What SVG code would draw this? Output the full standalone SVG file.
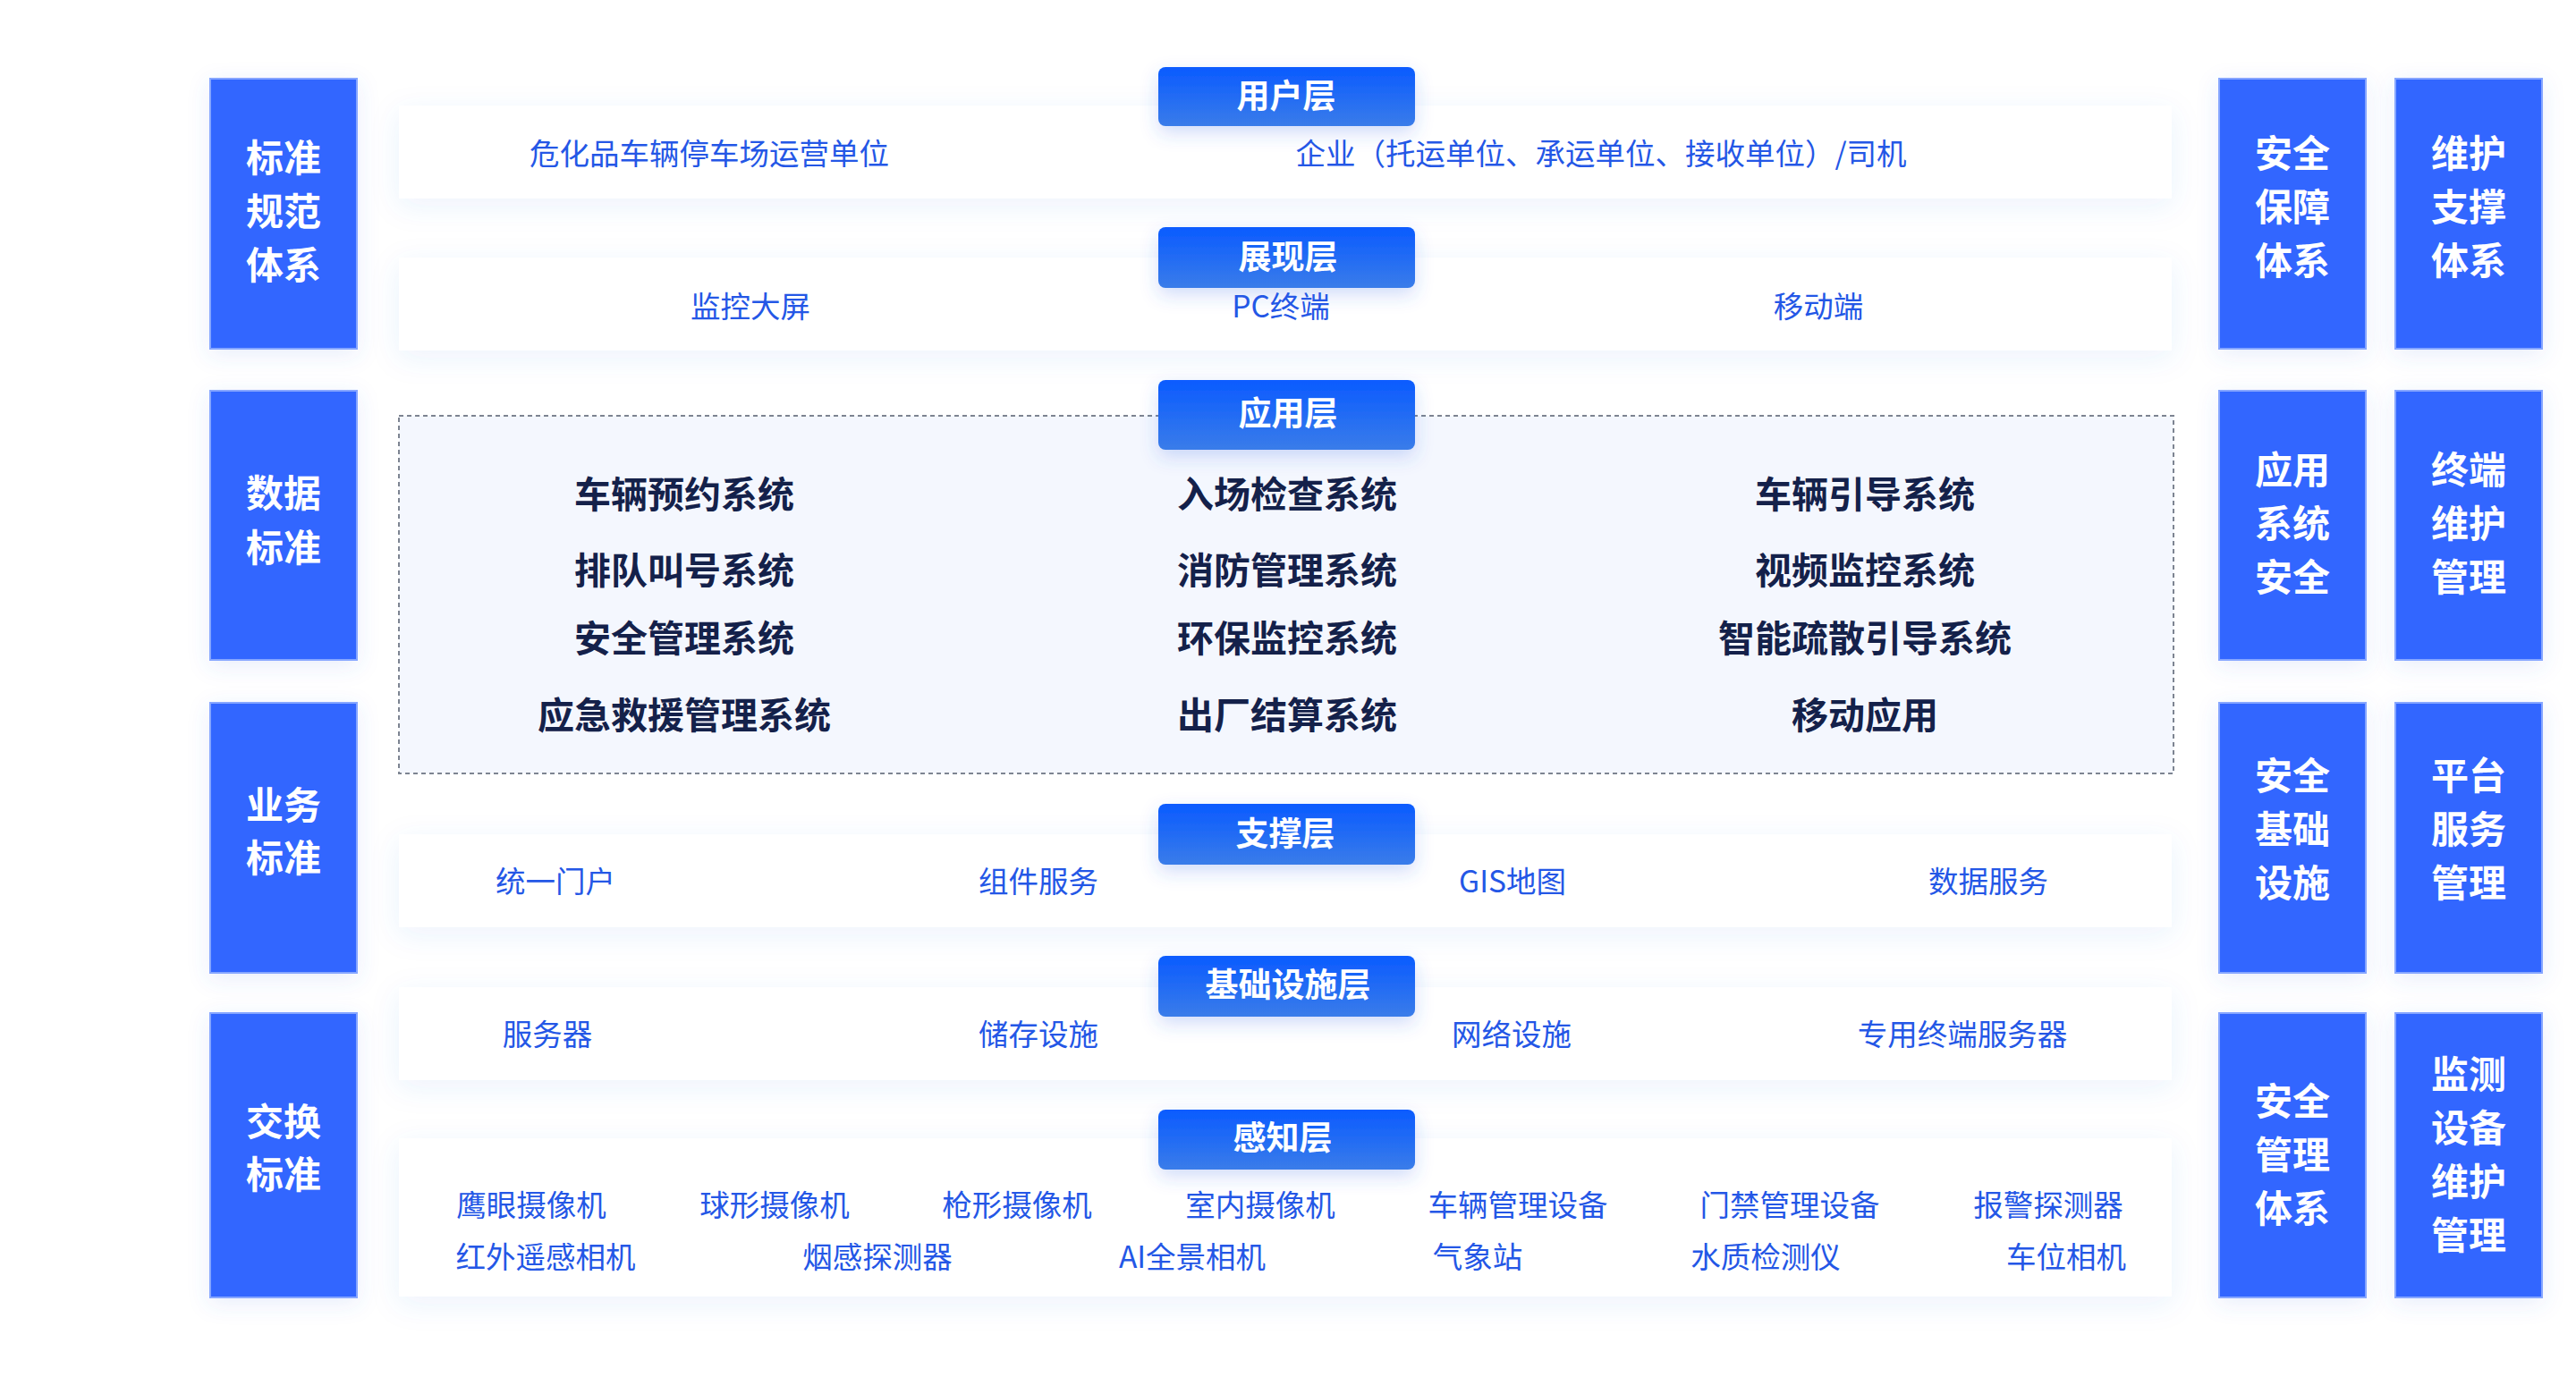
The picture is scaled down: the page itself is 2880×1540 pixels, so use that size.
<svg xmlns="http://www.w3.org/2000/svg" width="2880" height="1540" viewBox="0 0 2880 1540">
<defs>
<linearGradient id="tabGrad" x1="0" y1="0" x2="0" y2="1">
<stop offset="0" stop-color="#0a5bff"/>
<stop offset="1" stop-color="#3a7ce9"/>
</linearGradient>
<filter id="softShadow" x="-10%" y="-40%" width="120%" height="180%">
<feDropShadow dx="0" dy="8" stdDeviation="16" flood-color="#3f6fe0" flood-opacity="0.09"/>
</filter>
<filter id="tabShadow" x="-20%" y="-30%" width="140%" height="180%">
<feDropShadow dx="0" dy="8" stdDeviation="10" flood-color="#2f62e8" flood-opacity="0.22"/>
</filter>
<filter id="boxShadow" x="-30%" y="-15%" width="160%" height="130%">
<feDropShadow dx="0" dy="6" stdDeviation="12" flood-color="#3f6fe0" flood-opacity="0.12"/>
</filter>
</defs>
<style>
text{font-family:"Noto Sans CJK SC","Noto Sans",sans-serif;dominant-baseline:central;text-anchor:middle}
.side rect{fill:#3366ff;stroke:#86a6ff;stroke-width:2;filter:url(#boxShadow)}
.side text{fill:#ffffff;font-size:42px;font-weight:700}
.band{fill:#ffffff;filter:url(#softShadow)}
.tab rect{fill:url(#tabGrad);filter:url(#tabShadow)}
.tab text{fill:#ffffff;font-size:37px;font-weight:700}
.item{fill:#2457e6;font-size:33.5px;font-weight:400}
.app{fill:#14214a;font-size:41px;font-weight:700}
</style>
<rect x="0" y="0" width="2880" height="1540" fill="#ffffff"/>

<!-- left column -->
<g id="std-spec" class="side"><rect x="235" y="88" width="164" height="302"/><text x="317" y="173">标准</text><text x="317" y="233">规范</text><text x="317" y="293">体系</text></g>
<g id="data-std" class="side"><rect x="235" y="437" width="164" height="301"/><text x="317" y="548">数据</text><text x="317" y="609">标准</text></g>
<g id="biz-std" class="side"><rect x="235" y="786" width="164" height="302"/><text x="317" y="897">业务</text><text x="317" y="956">标准</text></g>
<g id="exch-std" class="side"><rect x="235" y="1133" width="164" height="318"/><text x="317" y="1251">交换</text><text x="317" y="1310">标准</text></g>

<!-- right columns -->
<g id="sec-guarantee" class="side"><rect x="2481" y="88" width="164" height="302"/><text x="2563" y="168">安全</text><text x="2563" y="228">保障</text><text x="2563" y="288">体系</text></g>
<g id="maint-support" class="side"><rect x="2678" y="88" width="164" height="302"/><text x="2760" y="168">维护</text><text x="2760" y="228">支撑</text><text x="2760" y="288">体系</text></g>
<g id="app-sec" class="side"><rect x="2481" y="437" width="164" height="301"/><text x="2563" y="522">应用</text><text x="2563" y="582">系统</text><text x="2563" y="642">安全</text></g>
<g id="term-maint" class="side"><rect x="2678" y="437" width="164" height="301"/><text x="2760" y="522">终端</text><text x="2760" y="582">维护</text><text x="2760" y="642">管理</text></g>
<g id="sec-infra" class="side"><rect x="2481" y="786" width="164" height="302"/><text x="2563" y="864">安全</text><text x="2563" y="924">基础</text><text x="2563" y="984">设施</text></g>
<g id="platform-svc" class="side"><rect x="2678" y="786" width="164" height="302"/><text x="2760" y="864">平台</text><text x="2760" y="924">服务</text><text x="2760" y="984">管理</text></g>
<g id="sec-mgmt" class="side"><rect x="2481" y="1133" width="164" height="318"/><text x="2563" y="1228">安全</text><text x="2563" y="1288">管理</text><text x="2563" y="1348">体系</text></g>
<g id="monitor-maint" class="side"><rect x="2678" y="1133" width="164" height="318"/><text x="2760" y="1198">监测</text><text x="2760" y="1258">设备</text><text x="2760" y="1318">维护</text><text x="2760" y="1378">管理</text></g>

<!-- user layer -->
<g id="user-layer">
<rect class="band" x="446" y="118" width="1982" height="104"/>
<text class="item" x="793" y="169">危化品车辆停车场运营单位</text>
<text class="item" x="1790" y="169">企业（托运单位、承运单位、接收单位）/司机</text>
<g class="tab"><rect x="1295" y="75" width="287" height="66" rx="8"/><text x="1438" y="105">用户层</text></g>
</g>

<!-- presentation layer -->
<g id="presentation-layer">
<rect class="band" x="446" y="288" width="1982" height="104"/>
<text class="item" x="839" y="340">监控大屏</text>
<text class="item" x="1432" y="340">PC终端</text>
<text class="item" x="2033" y="340">移动端</text>
<g class="tab"><rect x="1295" y="254" width="287" height="68" rx="8"/><text x="1440" y="285">展现层</text></g>
</g>

<!-- application layer -->
<g id="application-layer">
<rect x="446" y="465" width="1984" height="400" fill="#f4f7fe" stroke="#7d8491" stroke-width="2" stroke-dasharray="5,4"/>
<text class="app" x="765" y="550">车辆预约系统</text>
<text class="app" x="1439" y="550">入场检查系统</text>
<text class="app" x="2085" y="550">车辆引导系统</text>
<text class="app" x="765" y="635">排队叫号系统</text>
<text class="app" x="1439" y="635">消防管理系统</text>
<text class="app" x="2085" y="635">视频监控系统</text>
<text class="app" x="765" y="711">安全管理系统</text>
<text class="app" x="1439" y="711">环保监控系统</text>
<text class="app" x="2085" y="711">智能疏散引导系统</text>
<text class="app" x="765" y="797">应急救援管理系统</text>
<text class="app" x="1439" y="797">出厂结算系统</text>
<text class="app" x="2085" y="797">移动应用</text>
<g class="tab"><rect x="1295" y="425" width="287" height="78" rx="8"/><text x="1440" y="460">应用层</text></g>
</g>

<!-- support layer -->
<g id="support-layer">
<rect class="band" x="446" y="933" width="1982" height="104"/>
<text class="item" x="621" y="983">统一门户</text>
<text class="item" x="1161" y="983">组件服务</text>
<text class="item" x="1691" y="983">GIS地图</text>
<text class="item" x="2223" y="983">数据服务</text>
<g class="tab"><rect x="1295" y="899" width="287" height="68" rx="8"/><text x="1437" y="930">支撑层</text></g>
</g>

<!-- infrastructure layer -->
<g id="infra-layer">
<rect class="band" x="446" y="1104" width="1982" height="104"/>
<text class="item" x="612" y="1154">服务器</text>
<text class="item" x="1161" y="1154">储存设施</text>
<text class="item" x="1690" y="1154">网络设施</text>
<text class="item" x="2194" y="1154">专用终端服务器</text>
<g class="tab"><rect x="1295" y="1069" width="287" height="68" rx="8"/><text x="1440" y="1099">基础设施层</text></g>
</g>

<!-- perception layer -->
<g id="perception-layer">
<rect class="band" x="446" y="1273" width="1982" height="177"/>
<text class="item" x="594" y="1345">鹰眼摄像机</text>
<text class="item" x="866" y="1345">球形摄像机</text>
<text class="item" x="1137" y="1345">枪形摄像机</text>
<text class="item" x="1409" y="1345">室内摄像机</text>
<text class="item" x="1697" y="1345">车辆管理设备</text>
<text class="item" x="2001" y="1345">门禁管理设备</text>
<text class="item" x="2290" y="1345">报警探测器</text>
<text class="item" x="610" y="1403">红外遥感相机</text>
<text class="item" x="981" y="1403">烟感探测器</text>
<text class="item" x="1333" y="1403">AI全景相机</text>
<text class="item" x="1652" y="1403">气象站</text>
<text class="item" x="1974" y="1403">水质检测仪</text>
<text class="item" x="2310" y="1403">车位相机</text>
<g class="tab"><rect x="1295" y="1241" width="287" height="67" rx="8"/><text x="1434" y="1270">感知层</text></g>
</g>

<g id="connectors"></g>
</svg>
